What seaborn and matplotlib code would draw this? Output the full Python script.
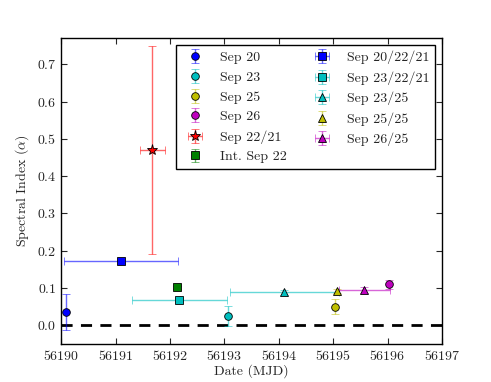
import numpy as np
import pandas as pd
import seaborn as sns
import matplotlib.pyplot as plt
from matplotlib.colors import to_rgba

labels = ['Sep 20', 'Sep 23', 'Sep 25', 'Sep 26', 'Sep 22/21', 'Int. Sep 22',
          'Sep 20/22/21', 'Sep 23/22/21', 'Sep 23/25', 'Sep 25/25', 'Sep 26/25']
dates = [56190.09, 56193.07, 56195.03, 56196.03, 56191.67, 56192.12,
         56191.10, 56192.17, 56194.10, 56195.07, 56195.57]
date_err = [0.0, 0.0, 0.0, 0.0, 0.23, 0.0,
            1.05, 0.88, 1.00, 0.0, 0.47]
alpha = [0.035, 0.025, 0.050, 0.110, 0.470, 0.102,
         0.172, 0.068, 0.088, 0.092, 0.095]
alpha_err = [0.048, 0.027, 0.020, 0.012, 0.280, 0.004,
             0.004, 0.004, 0.006, 0.006, 0.008]
colors = ['b', 'c', 'y', 'm', 'r', 'g', 'b', 'c', 'c', 'y', 'm']
markers = ['o', 'o', 'o', 'o', '*', 's', 's', 's', '^', '^', '^']

df = pd.DataFrame({'label': labels, 'date': dates, 'date_err': date_err,
                   'alpha': alpha, 'alpha_err': alpha_err,
                   'color': colors, 'marker': markers})

sns.set_style('ticks', {'xtick.direction': 'in', 'ytick.direction': 'in',
                        'axes.edgecolor': 'black'})
plt.rcParams['font.family'] = ['cmr10', 'DejaVu Serif']
plt.rcParams['mathtext.fontset'] = 'cm'
plt.rcParams['axes.formatter.use_mathtext'] = True
plt.rcParams['font.size'] = 10

fig = plt.figure(figsize=(4.91, 3.82), dpi=100)
ax = fig.add_axes([0.125, 0.1, 0.775, 0.8])

sizes = {'o': 5.5, 's': 5.5, '*': 8, '^': 6}
for _, row in df.iterrows():
    xerr = row['date_err'] if row['date_err'] > 0 else None
    ax.errorbar(row['date'], row['alpha'], yerr=row['alpha_err'], xerr=xerr,
                fmt=row['marker'], color=row['color'],
                ecolor=to_rgba(row['color'], 0.6), mec='black', mew=0.6,
                ms=sizes[row['marker']], capsize=3, elinewidth=1,
                label=row['label'], clip_on=False, zorder=3)

ax.axhline(0, color='black', ls='--', lw=2, dashes=(4, 3), zorder=2)

ax.set_xlim(56190, 56197)
ax.set_ylim(-0.05, 0.77)
ax.set_xticks(np.arange(56190, 56198, 1))
ax.set_yticks(np.arange(0, 0.71, 0.1))
ax.ticklabel_format(axis='x', useOffset=False)
ax.tick_params(top=True, right=True, direction='in', length=4, width=0.8,
               labelsize=10)
for s in ax.spines.values():
    s.set_linewidth(1.0)
ax.set_xlabel('Date (MJD)', fontsize=10, labelpad=1)
ax.set_ylabel(r'Spectral Index ($\alpha$)', fontsize=10)

leg = ax.legend(ncol=2, loc='upper right', numpoints=1, fancybox=False,
                fontsize=10, borderaxespad=0.5, handletextpad=0.8,
                labelspacing=0.5, columnspacing=1.5)
leg.get_frame().set_edgecolor('black')
leg.get_frame().set_alpha(1)
leg.set_zorder(5)

fig.savefig('out.png', dpi=100)
